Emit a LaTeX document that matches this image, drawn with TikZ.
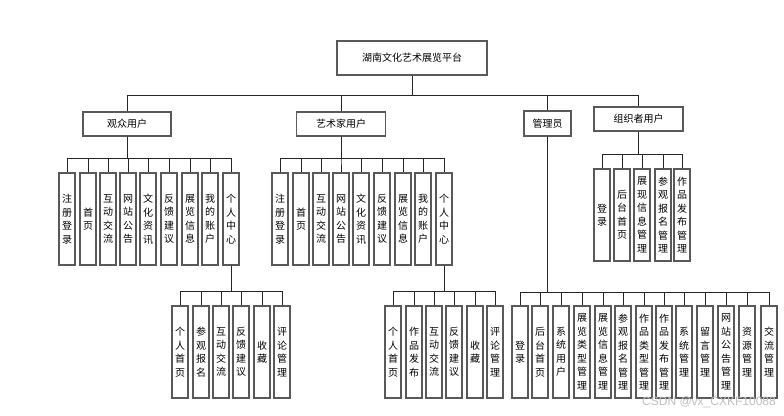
\documentclass[tikz,border=0pt]{standalone}
\usepackage{fontspec}
\newfontfamily\cjk{Noto Sans CJK SC}
\newfontfamily\wmfont{Liberation Sans}
\begin{document}
\begin{tikzpicture}[x=1pt,y=-1pt,
  box/.style={draw=black!65, line width=1.3pt, fill=white, inner sep=0pt,
    font=\cjk\fontsize{10}{13.5}\selectfont},
  topbox/.style={box, minimum height=24pt},
  vbox/.style={box, minimum width=16pt, minimum height=92pt, align=center},
  link/.style={draw=black!85, line width=1pt}]
\useasboundingbox (0,0) rectangle (784,415);

% top level
\node[box, minimum width=150pt, minimum height=34pt] (root) at (412,58) {湖南文化艺术展览平台};
\node[topbox, minimum width=88pt] (aud) at (127,124) {观众用户};
\node[topbox, minimum width=89pt] (art) at (341,124) {艺术家用户};
\node[topbox, minimum width=47pt, minimum height=25pt] (adm) at (547.5,123.5) {管理员};
\node[topbox, minimum width=89pt] (org) at (638.5,119) {组织者用户};

\coordinate (bus0) at (0,95);
\coordinate (busA) at (0,158);
\coordinate (busB) at (0,291);
\coordinate (busC) at (0,292);
\coordinate (busD) at (0,154);

% audience row
\node[vbox] (a1) at (67,219) {注\\册\\登\\录};
\node[vbox] (a2) at (88,219) {首\\页};
\node[vbox] (a3) at (108,219) {互\\动\\交\\流};
\node[vbox] (a4) at (128,219) {网\\站\\公\\告};
\node[vbox] (a5) at (148,219) {文\\化\\资\\讯};
\node[vbox] (a6) at (169,219) {反\\馈\\建\\议};
\node[vbox] (a7) at (190,219) {展\\览\\信\\息};
\node[vbox] (a8) at (210,219) {我\\的\\账\\户};
\node[vbox] (a9) at (231,219) {个\\人\\中\\心};

\node[vbox] (p1) at (180,352) {个\\人\\首\\页};
\node[vbox] (p2) at (201,352) {参\\观\\报\\名};
\node[vbox] (p3) at (221,352) {互\\动\\交\\流};
\node[vbox] (p4) at (241,352) {反\\馈\\建\\议};
\node[vbox] (p5) at (262,352) {收\\藏};
\node[vbox] (p6) at (282,352) {评\\论\\管\\理};

% artist row
\node[vbox] (b1) at (280,219) {注\\册\\登\\录};
\node[vbox] (b2) at (301,219) {首\\页};
\node[vbox] (b3) at (321,219) {互\\动\\交\\流};
\node[vbox] (b4) at (341,219) {网\\站\\公\\告};
\node[vbox] (b5) at (361,219) {文\\化\\资\\讯};
\node[vbox] (b6) at (382,219) {反\\馈\\建\\议};
\node[vbox] (b7) at (403,219) {展\\览\\信\\息};
\node[vbox] (b8) at (423,219) {我\\的\\账\\户};
\node[vbox] (b9) at (444,219) {个\\人\\中\\心};

\node[vbox] (q1) at (393,352) {个\\人\\首\\页};
\node[vbox] (q2) at (414,352) {作\\品\\发\\布};
\node[vbox] (q3) at (434,352) {互\\动\\交\\流};
\node[vbox] (q4) at (454,352) {反\\馈\\建\\议};
\node[vbox] (q5) at (475,352) {收\\藏};
\node[vbox] (q6) at (495,352) {评\\论\\管\\理};

% admin row
\node[vbox] (c1) at (520,352) {登\\录};
\node[vbox] (c2) at (540,352) {后\\台\\首\\页};
\node[vbox] (c3) at (561,352) {系\\统\\用\\户};
\node[vbox] (c4) at (582,352) {展\\览\\类\\型\\管\\理};
\node[vbox] (c5) at (603,352) {展\\览\\信\\息\\管\\理};
\node[vbox] (c6) at (623,352) {参\\观\\报\\名\\管\\理};
\node[vbox] (c7) at (644,352) {作\\品\\类\\型\\管\\理};
\node[vbox] (c8) at (664,352) {作\\品\\发\\布\\管\\理};
\node[vbox] (c9) at (684,352) {系\\统\\管\\理};
\node[vbox] (c10) at (705,352) {留\\言\\管\\理};
\node[vbox] (c11) at (726,352) {网\\站\\公\\告\\管\\理};
\node[vbox] (c12) at (747,352) {资\\源\\管\\理};
\node[vbox] (c13) at (769,352) {交\\流\\管\\理};

% organizer row
\node[vbox] (d1) at (602,215) {登\\录};
\node[vbox] (d2) at (622,215) {后\\台\\首\\页};
\node[vbox] (d3) at (642,215) {展\\现\\信\\息\\管\\理};
\node[vbox] (d4) at (663,215) {参\\观\\报\\名\\管\\理};
\node[vbox] (d5) at (682,215) {作\\品\\发\\布\\管\\理};

% connectors
\foreach \c in {aud,art,adm,org}
  \draw[link] (root.south) -- (root.south |- bus0) -| (\c.north);
\foreach \c in {a1,a2,a3,a4,a5,a6,a7,a8,a9}
  \draw[link] (aud.south) -- (aud.south |- busA) -| (\c.north);
\foreach \c in {p1,p2,p3,p4,p5,p6}
  \draw[link] (a9.south) -- (a9.south |- busB) -| (\c.north);
\foreach \c in {b1,b2,b3,b4,b5,b6,b7,b8,b9}
  \draw[link] (art.south) -- (art.south |- busA) -| (\c.north);
\foreach \c in {q1,q2,q3,q4,q5,q6}
  \draw[link] (b9.south) -- (b9.south |- busB) -| (\c.north);
\foreach \c in {c1,c2,c3,c4,c5,c6,c7,c8,c9,c10,c11,c12,c13}
  \draw[link] (adm.south) -- (adm.south |- busC) -| (\c.north);
\foreach \c in {d1,d2,d3,d4,d5}
  \draw[link] (org.south) -- (org.south |- busD) -| (\c.north);

% watermark
\node[text=black!25, font=\wmfont\fontsize{12}{12}\selectfont, anchor=east, inner sep=0pt] (wm) at (776,402) {CSDN @vx\_CXKF10088};
\end{tikzpicture}
\end{document}
